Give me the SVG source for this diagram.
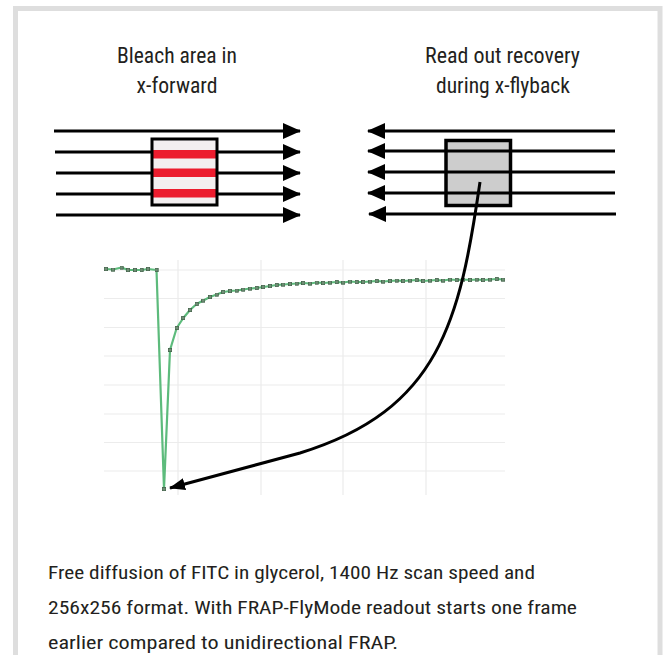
<svg xmlns="http://www.w3.org/2000/svg" width="668" height="655" viewBox="0 0 668 655">
<style>
.t{font-family:"Liberation Sans Narrow","Roboto Condensed","Liberation Sans",Arial,sans-serif;fill:#231f20}
.title{font-size:22px;text-anchor:middle}
.cap{font-size:19px}
.scan{stroke:#000;stroke-width:3;fill:none}
.grid{stroke:#ececec;stroke-width:1.2;fill:none}
</style>
<defs>
<marker id="ah" markerUnits="userSpaceOnUse" markerWidth="18" markerHeight="16" refX="17" refY="8" orient="auto" viewBox="0 0 18 16">
<path d="M0,0 L18,8 L0,16 z" fill="#000"/>
</marker>
<marker id="ah2" markerUnits="userSpaceOnUse" markerWidth="16" markerHeight="12" refX="15" refY="6" orient="auto" viewBox="0 0 16 12">
<path d="M0,0 L16,6 L0,12 z" fill="#000"/>
</marker>
<marker id="pt" markerUnits="userSpaceOnUse" markerWidth="4" markerHeight="4" refX="2" refY="2" viewBox="0 0 4 4">
<rect x="0.3" y="0.3" width="3.4" height="3.4" fill="#6f8f75" stroke="#3f5f47" stroke-width="0.8"/>
</marker>
</defs>
<rect x="15.5" y="8.5" width="644.5" height="670" fill="#fff" stroke="#dedede" stroke-width="5"/>

<g id="label-bleach">
<text class="t title" x="177" y="63" textLength="120" lengthAdjust="spacingAndGlyphs">Bleach area in</text>
<text class="t title" x="177" y="93" textLength="81" lengthAdjust="spacingAndGlyphs">x-forward</text>
</g>
<g id="label-readout">
<text class="t title" x="502.5" y="63" textLength="155" lengthAdjust="spacingAndGlyphs">Read out recovery</text>
<text class="t title" x="503" y="93" textLength="134" lengthAdjust="spacingAndGlyphs">during x-flyback</text>
</g>

<g id="bleach-box">
<rect x="152" y="139" width="65" height="66" fill="#f3eff0"/>
<rect x="153" y="150" width="63" height="8.5" fill="#ec1c2e"/>
<rect x="153" y="168.5" width="63" height="8.5" fill="#ec1c2e"/>
<rect x="153" y="189" width="63" height="8.5" fill="#ec1c2e"/>
</g>
<g id="forward-scan">
<line class="scan" x1="54" y1="131" x2="300" y2="131" marker-end="url(#ah)"/>
<line class="scan" x1="55" y1="152" x2="152" y2="152"/>
<line class="scan" x1="217" y1="152" x2="300" y2="152" marker-end="url(#ah)"/>
<line class="scan" x1="56" y1="173" x2="152" y2="173"/>
<line class="scan" x1="217" y1="173" x2="300" y2="173" marker-end="url(#ah)"/>
<line class="scan" x1="56" y1="194" x2="152" y2="194"/>
<line class="scan" x1="217" y1="194" x2="300" y2="194" marker-end="url(#ah)"/>
<line class="scan" x1="56" y1="215" x2="300" y2="215" marker-end="url(#ah)"/>
</g>
<g id="bleach-frame">
<rect x="152" y="139" width="65" height="66" fill="none" stroke="#000" stroke-width="3"/>
</g>

<g id="readout-box">
<rect x="446" y="140.5" width="64.5" height="65" fill="#cdcdcd" stroke="#000" stroke-width="3.5"/>
</g>
<g id="flyback-scan">
<line class="scan" x1="615" y1="131" x2="368" y2="131" marker-end="url(#ah)"/>
<line class="scan" x1="615" y1="151" x2="368" y2="151" marker-end="url(#ah)"/>
<line class="scan" x1="615" y1="172" x2="368" y2="172" marker-end="url(#ah)"/>
<line class="scan" x1="615" y1="193" x2="368" y2="193" marker-end="url(#ah)"/>
<line class="scan" x1="616" y1="214" x2="369" y2="214" marker-end="url(#ah)"/>
</g>

<g id="chart">
<g class="grid-lines">
<path class="grid" d="M104,270H505M104,298.5H505M104,327.5H505M104,356H505M104,385H505M104,414H505M104,442.5H505M104,471H505"/>
<path class="grid" d="M178,260V495M261,260V495M343,260V495M426,260V495"/>
</g>
<polyline fill="none" stroke="#5dbb7c" stroke-width="2.2" stroke-linejoin="round" marker-start="url(#pt)" marker-mid="url(#pt)" marker-end="url(#pt)" points="106,269 113,269.5 121.5,267.5 128,270 135,270 141.5,270 148,269 156.5,270 164,489 170,350 176.7,328 183.3,318 190,310 196.6,304 203.3,300.5 210,297 216.6,294.5 223.3,292 230,291 236.6,290.5 243.3,289.5 250,288.5 256.6,288 263.3,287 270,286 276.6,285 283.3,284.5 290,284 296.6,283.5 303.3,283 310,283.5 316.6,282.5 323.3,283 330,282.5 336.6,282 343.3,282.5 350,281.5 356.6,282 363.3,282 370,281.5 376.6,281 383.3,281.5 390,281 396.6,280.5 403.3,281 410,280.5 416.6,280 423.3,281 430,280.5 436.6,280 443.3,280.5 450,279.5 456.6,280 463.3,279.5 470,280 476.6,279.5 483.3,280 490,279.5 496.6,279 503.3,279.5"/>
</g>

<g id="connectors">
<path d="M480,182 C460,320 440,410 300,453 L170,488" fill="none" stroke="#000" stroke-width="3" marker-end="url(#ah2)"/>
</g>

<g id="caption">
<text class="t cap" x="48" y="579" textLength="487" lengthAdjust="spacingAndGlyphs">Free diffusion of FITC in glycerol, 1400 Hz scan speed and</text>
<text class="t cap" x="48" y="614" textLength="529" lengthAdjust="spacingAndGlyphs">256x256 format. With FRAP-FlyMode readout starts one frame</text>
<text class="t cap" x="48" y="649" textLength="350" lengthAdjust="spacingAndGlyphs">earlier compared to unidirectional FRAP.</text>
</g>
</svg>
